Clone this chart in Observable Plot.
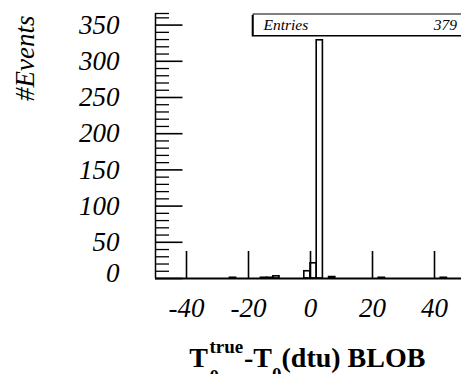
<!DOCTYPE html>
<html><head><meta charset="utf-8">
<script src="https://cdn.jsdelivr.net/npm/d3@7"></script>
<script src="https://cdn.jsdelivr.net/npm/@observablehq/plot@0.6"></script>
<style>body{margin:0;background:#fff;} svg{display:block}</style>
</head><body><div id="chart"></div>
<script>
const binLow = [-26, -16, -14, -12, -2, 0, 2, 6, 22, 42];
const binCounts = [1, 1, 1, 3, 10, 21, 329, 2, 1, 1];
const binWidth = 2;
const xTicks = [-40, -20, 0, 20, 40];
const yTicks = [50, 100, 150, 200, 250, 300, 350];
const yZeroTick = [0];
const yMinorTicks = [10,20,30,40,60,70,80,90,110,120,130,140,160,170,180,190,210,220,230,240,260,270,280,290,310,320,330,340,360];
const xDomain = [-50, 50];
const yDomain = [0, 366];
const entriesLabel = "Entries";
const entries = 379;
const yTitle = "#Events";

const bins = binLow.map((x, i) => ({x1: x, x2: x + binWidth, count: binCounts[i]}));
const font = "'Liberation Serif', 'Times New Roman', serif";
const noText = () => "";

const svg = Plot.plot({
  width: 461, height: 374,
  marginLeft: 155, marginRight: 0, marginTop: 13, marginBottom: 96,
  style: {background: "white", fontFamily: font, color: "black", overflow: "hidden"},
  x: {domain: xDomain, range: [155, 465], axis: null, label: null},
  y: {domain: yDomain, range: [278, 13], axis: null, label: null},
  marks: [
    Plot.rectY(bins, {x1: "x1", x2: "x2", y: "count", fill: "none", stroke: "black", strokeWidth: 1.6}),
    Plot.ruleY([0], {strokeWidth: 1.8}),
    Plot.ruleX([xDomain[0]], {strokeWidth: 1.5}),
    // x axis
    Plot.axisX(xTicks, {anchor: "bottom", label: null, tickSize: -27, tickFormat: noText, strokeWidth: 1.6}),
    Plot.axisX(xTicks, {anchor: "bottom", label: null, tickSize: 0, tickPadding: 19, fontSize: 27, fontStyle: "italic", tickFormat: d => String(d)}),
    // y axis
    Plot.axisY(yMinorTicks, {anchor: "left", label: null, tickSize: -14, tickFormat: noText, strokeWidth: 1.3}),
    Plot.axisY([yDomain[1]], {anchor: "left", label: null, tickSize: -14, tickFormat: noText, strokeWidth: 1.3}),
    Plot.axisY(yTicks.concat(yZeroTick), {anchor: "left", label: null, tickSize: -27.5, tickFormat: noText, strokeWidth: 1.6}),
    Plot.axisY(yTicks, {anchor: "left", label: null, tickSize: 0, tickPadding: 36, fontSize: 27, fontStyle: "italic", tickFormat: d => String(d)}),
    Plot.axisY(yZeroTick, {anchor: "left", label: null, tickSize: 0, tickPadding: 36, dy: -5, fontSize: 27, fontStyle: "italic", tickFormat: d => String(d)}),
    // y title
    Plot.text([yTitle], {frameAnchor: "top-left", rotate: -90, textAnchor: "end", lineAnchor: "bottom", dx: -122, dy: 2, fontSize: 27, fontStyle: "italic"}),
    // stats box
    Plot.frame({fill: "black", stroke: null, insetLeft: 96.2, insetTop: 1.5, insetBottom: 242, insetRight: -10}),
    Plot.frame({fill: "white", stroke: "black", strokeWidth: 1, insetLeft: 97.7, insetTop: 0.5, insetBottom: 243, insetRight: -10}),
    Plot.text([entriesLabel], {frameAnchor: "top-left", dx: 108, dy: 16, textAnchor: "start", lineAnchor: "bottom", fontSize: 15.5, fontStyle: "italic"}),
    Plot.text([String(entries)], {frameAnchor: "top-right", dx: -4.5, dy: 16, textAnchor: "end", lineAnchor: "bottom", fontSize: 15.5, fontStyle: "italic"})
  ]
});

// x-axis title with super/subscripts
const root = d3.select(svg);
const tg = root.append("g").attr("font-family", font).attr("font-weight", "bold").attr("fill", "black").attr("text-anchor", "start");
tg.append("text").attr("x", 189.3).attr("y", 366.7).attr("font-size", 28).text("T");
tg.append("text").attr("x", 209.5).attr("y", 353).attr("font-size", 19).text("true");
tg.append("text").attr("x", 209.5).attr("y", 383).attr("font-size", 19).text("0");
const t2 = tg.append("text").attr("x", 244).attr("y", 366.7).attr("font-size", 28);
t2.append("tspan").text("-T");
t2.append("tspan").attr("font-size", 19).attr("dy", 14).text("0");
t2.append("tspan").attr("font-size", 28).attr("dy", -14).text("(dtu) BLOB");

document.getElementById("chart").appendChild(svg);
</script>
</body></html>
